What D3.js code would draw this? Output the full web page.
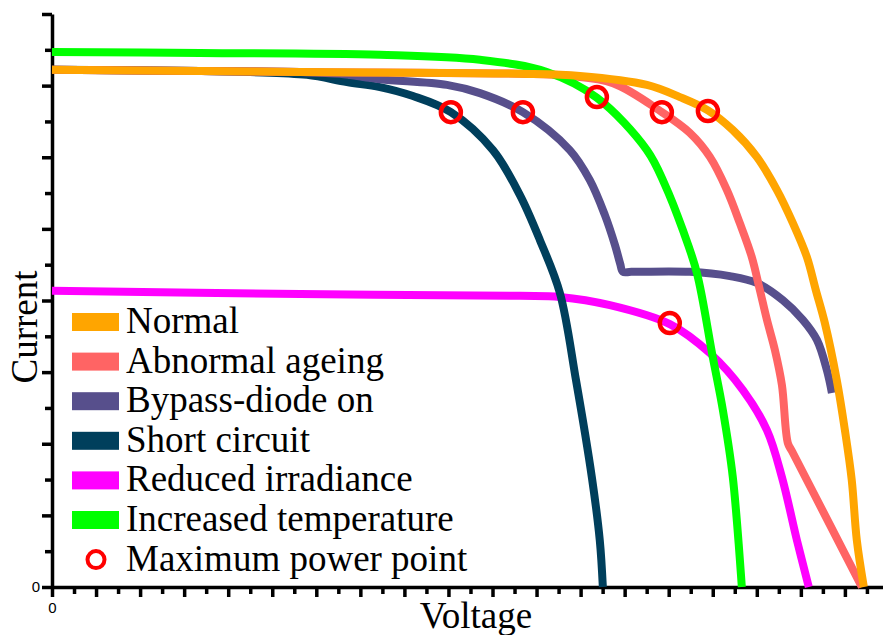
<!DOCTYPE html>
<html>
<head>
<meta charset="utf-8">
<script src="https://cdn.jsdelivr.net/npm/d3@7"></script>
<style>
	body { margin: 0; background: #fff; }
	svg { display: block; }
	.axis path, .axis line { stroke: #000; stroke-width: 3.5; }
</style>
</head>
<body>
<div id="chart"></div>
<script>
// I-V curves, values in axis tick units (x: voltage, y: current)
var seriesNames = ["Normal", "Abnormal ageing", "Bypass-diode on", "Short circuit", "Reduced irradiance", "Increased temperature"];
var seriesColors = ["#FFA500", "#FF6464", "#574F8C", "#003F5C", "#FF00FF", "#00FF00"];

var normal = [[0,14.44],[6.72,14.41],[11.26,14.38],[18.07,14.35],[21.24,14.33],[23.97,14.27],[27.01,14.02],[28.51,13.68],[29.78,13.31],[30.91,12.76],[32.00,12.01],[32.91,11.09],[33.64,10.16],[34.27,9.22],[34.68,8.29],[35.09,7.37],[35.63,5.78],[36.00,4.38],[36.31,2.99],[36.54,1.31],[36.86,0]];
var ageing = [[0,14.44],[6.72,14.41],[11.26,14.38],[21.24,14.33],[23.51,14.27],[25.47,14.07],[27.69,13.26],[28.96,12.68],[29.87,12.01],[30.64,11.09],[31.23,10.16],[31.77,9.22],[32.14,8.29],[32.46,7.46],[32.82,6.62],[33.14,5.64],[33.41,4.02],[33.60,3.79],[35.10,2.00],[36.77,0]];
var bypass = [[0,14.44],[6.72,14.41],[11.26,14.38],[13.07,14.33],[14.89,14.18],[17.93,14.02],[19.43,13.79],[21.38,13.26],[23.51,12.20],[24.42,11.36],[25.10,10.39],[25.56,9.55],[25.80,9.02],[25.92,8.80],[26.30,8.80],[28.96,8.80],[30.78,8.68],[32.00,8.49],[33.18,8.01],[34.09,7.46],[34.73,6.90],[35.18,6.06],[35.41,5.42]];
var shortCircuit = [[0,14.44],[6.72,14.41],[8.99,14.38],[11.58,14.30],[13.39,14.10],[14.89,13.96],[16.39,13.71],[18.11,13.26],[20.02,12.20],[21.24,10.95],[22.15,9.69],[23.06,8.21],[23.79,5.78],[24.51,3.07],[24.87,1.31],[25.01,0]];
var irradiance = [[0,8.27],[11.26,8.18],[21.24,8.13],[23.06,8.10],[25.33,7.87],[28.05,7.34],[29.87,6.53],[31.37,5.50],[32.46,4.38],[33.14,3.07],[33.82,1.31],[34.36,0]];
var temperature = [[0,14.94],[6.72,14.91],[14.89,14.86],[19.43,14.72],[22.47,14.38],[24.74,13.66],[27.01,12.20],[27.83,11.23],[28.64,9.97],[29.28,8.77],[30.00,6.42],[30.46,4.94],[30.91,3.07],[31.32,0]];

// maximum power points
var mpp = [[18.11,13.26],[21.38,13.26],[24.74,13.68],[27.69,13.26],[29.78,13.29],[28.05,7.37]];

var xTicks = d3.range(0, 38);
var yTicks = d3.range(0, 17);

var width = 883, height = 635;
var serif = "'Liberation Serif', 'Times New Roman', Times, serif";
var x = d3.scaleLinear().domain([0, 37.73]).range([52, 883]);
var y = d3.scaleLinear().domain([0, 16]).range([587, 14]);

var svg = d3.select("#chart").append("svg")
	.attr("width", width)
	.attr("height", height);

var xAxis = svg.append("g")
	.attr("class", "axis")
	.attr("transform", "translate(0," + y(0) + ")")
	.call(d3.axisBottom(x).tickValues(xTicks).tickSizeOuter(0)
		.tickFormat(function(d) { return d === 0 ? "0" : ""; }));
xAxis.selectAll(".tick line").attr("y2", function(d) { return d % 2 === 0 ? 10 : 7; });
xAxis.selectAll(".tick text").attr("y", 15).attr("font-size", 15).attr("font-family", "'Liberation Sans', Arial, sans-serif");

var yAxis = svg.append("g")
	.attr("class", "axis")
	.attr("transform", "translate(" + x(0) + ",0)")
	.call(d3.axisLeft(y).tickValues(yTicks).tickSizeOuter(0)
		.tickFormat(function(d) { return d === 0 ? "0" : ""; }));
yAxis.selectAll(".tick line").attr("x2", function(d) { return d % 2 === 0 ? -10 : -7; });
yAxis.selectAll(".tick text").attr("x", -12).attr("font-size", 15).attr("font-family", "'Liberation Sans', Arial, sans-serif");

var line = d3.line()
	.x(function(d) { return x(d[0]); })
	.y(function(d) { return y(d[1]); })
	.curve(d3.curveCatmullRom.alpha(0.5));

// drawing order: back to front
var layers = [
	{ data: irradiance, color: seriesColors[4] },
	{ data: shortCircuit, color: seriesColors[3] },
	{ data: bypass, color: seriesColors[2] },
	{ data: ageing, color: seriesColors[1] },
	{ data: temperature, color: seriesColors[5] },
	{ data: normal, color: seriesColors[0] }
];

svg.append("g").selectAll("path")
	.data(layers)
	.enter()
	.append("path")
	.attr("d", function(d) { return line(d.data); })
	.attr("fill", "none")
	.attr("stroke", function(d) { return d.color; })
	.attr("stroke-width", 8)
	.attr("stroke-linejoin", "round");

svg.append("g").selectAll("circle")
	.data(mpp)
	.enter()
	.append("circle")
	.attr("cx", function(d) { return x(d[0]); })
	.attr("cy", function(d) { return y(d[1]); })
	.attr("r", 10)
	.attr("fill", "none")
	.attr("stroke", "#FF0000")
	.attr("stroke-width", 4.5);

// legend
var legend = svg.append("g").attr("class", "legend");
var rowY = function(i) { return 322 + i * 39.6; };
var rows = legend.selectAll("g.row")
	.data(seriesNames)
	.enter()
	.append("g")
	.attr("class", "row")
	.attr("transform", function(d, i) { return "translate(0," + rowY(i) + ")"; });
rows.append("rect")
	.attr("x", 72)
	.attr("y", -9)
	.attr("width", 47)
	.attr("height", 18)
	.attr("fill", function(d, i) { return seriesColors[i]; });
rows.append("text")
	.attr("x", 126)
	.attr("y", 11)
	.attr("font-family", serif)
	.attr("font-size", "37px")
	.text(function(d) { return d; });

var mppRow = legend.append("g").attr("transform", "translate(0," + rowY(6) + ")");
mppRow.append("circle")
	.attr("cx", 96)
	.attr("cy", 0)
	.attr("r", 8.5)
	.attr("fill", "none")
	.attr("stroke", "#FF0000")
	.attr("stroke-width", 4);
mppRow.append("text")
	.attr("x", 126)
	.attr("y", 11)
	.attr("font-family", serif)
	.attr("font-size", "37px")
	.text("Maximum power point");

// axis titles
svg.append("text")
	.attr("x", 476)
	.attr("y", 628)
	.attr("text-anchor", "middle")
	.attr("font-family", serif)
	.attr("font-size", "37px")
	.text("Voltage");

svg.append("text")
	.attr("transform", "translate(37,327) rotate(-90)")
	.attr("text-anchor", "middle")
	.attr("font-family", serif)
	.attr("font-size", "37px")
	.text("Current");
</script>
</body>
</html>
